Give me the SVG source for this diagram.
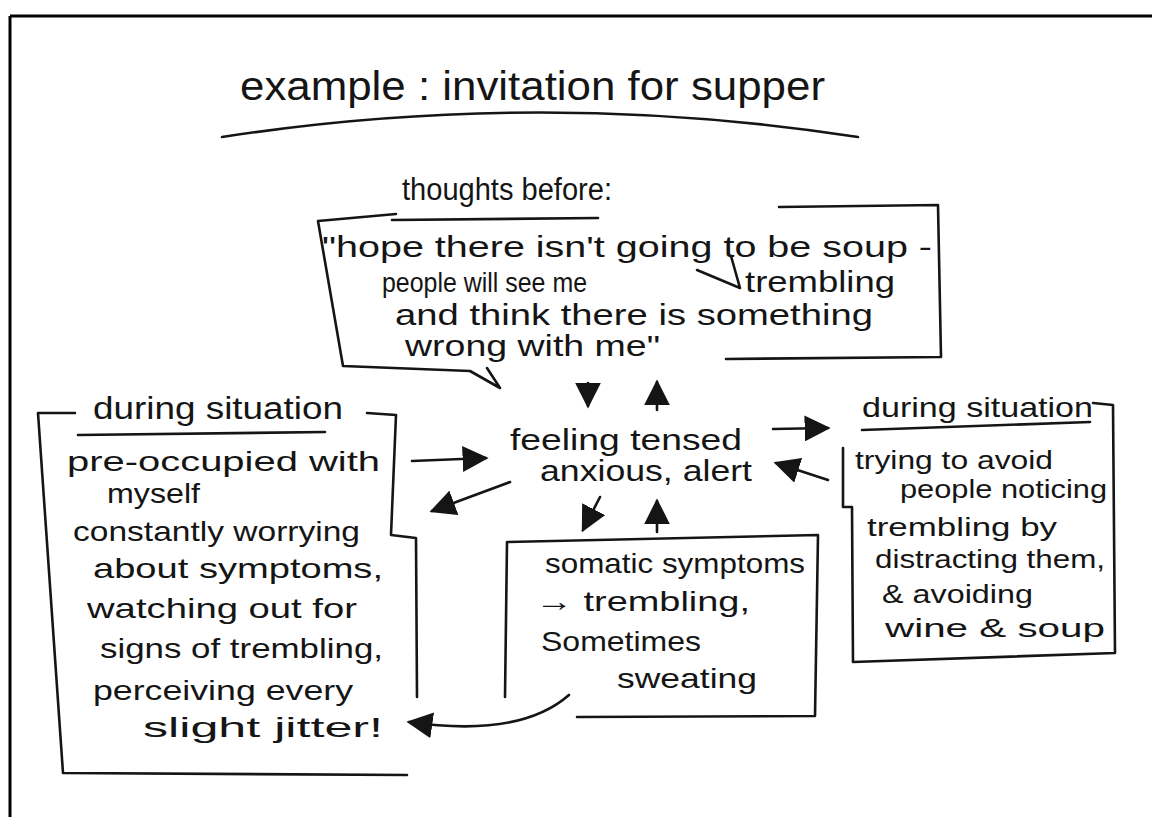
<svg xmlns="http://www.w3.org/2000/svg" width="1152" height="817" viewBox="0 0 1152 817">
<defs>
<style>
.ink{fill:none;stroke:#151515;stroke-width:2.6;stroke-linecap:round;stroke-linejoin:round}
.frame{fill:none;stroke:#000;stroke-width:3}
.t{font-family:"Liberation Sans","DejaVu Sans",sans-serif;fill:#151515}
.title{font-size:40px}
.head{font-size:31px}
.q{font-size:30px}
.b{font-size:28px}
.r{font-size:26px}
</style>
<marker id="ahb" viewBox="0 0 10 10" refX="9" refY="5" markerWidth="10" markerHeight="10" orient="auto-start-reverse">
<path d="M0,0 L10,5 L0,10 Z" fill="#151515"/>
</marker>
</defs>
<rect width="1152" height="817" fill="#fff"/>
<g id="frame">
<path class="frame" d="M10,16 L1152,16 M10,16 L10,817"/>
</g>
<g id="title">
<text class="t title" x="240" y="100" textLength="585" lengthAdjust="spacingAndGlyphs">example : invitation for supper</text>
<path class="ink" d="M222,137 Q540,88 858,137"/>
</g>
<g id="thoughts">
<text class="t head" x="402" y="200" textLength="210" lengthAdjust="spacingAndGlyphs">thoughts before:</text>
<path class="ink" d="M392,220 L598,218"/>
<path class="ink" d="M396,214 L318,221 L343,366 L470,371 L500,388 L487,368"/>
<path class="ink" d="M779,207 L938,205 L941,357 L726,359"/>
<text class="t q" x="322" y="257" textLength="610" lengthAdjust="spacingAndGlyphs">"hope there isn't going to be soup -</text>
<text class="t q" x="382" y="292" textLength="205" lengthAdjust="spacingAndGlyphs" style="font-size:27px">people will see me</text>
<path class="ink" d="M697,270 L740,288 L731,256"/>
<text class="t q" x="745" y="292" textLength="150" lengthAdjust="spacingAndGlyphs">trembling</text>
<text class="t q" x="395" y="325" textLength="478" lengthAdjust="spacingAndGlyphs">and think there is something</text>
<text class="t q" x="405" y="356" textLength="255" lengthAdjust="spacingAndGlyphs">wrong with me"</text>
</g>
<g id="center">
<text class="t q" x="510" y="450" textLength="232" lengthAdjust="spacingAndGlyphs">feeling tensed</text>
<text class="t q" x="540" y="481" textLength="212" lengthAdjust="spacingAndGlyphs">anxious, alert</text>
</g>
<g id="left-box">
<text class="t head" x="93" y="419" textLength="250" lengthAdjust="spacingAndGlyphs">during situation</text>
<path class="ink" d="M78,435 L325,432"/>
<path class="ink" d="M75,413 L38,413 L63,773 L407,775"/>
<path class="ink" d="M367,413 L396,415 L391,535 L416,538 L417,697"/>
<text class="t b" x="67" y="471" textLength="313" lengthAdjust="spacingAndGlyphs">pre-occupied with</text>
<text class="t b" x="107" y="503" textLength="93" lengthAdjust="spacingAndGlyphs">myself</text>
<text class="t b" x="73" y="541" textLength="287" lengthAdjust="spacingAndGlyphs">constantly worrying</text>
<text class="t b" x="93" y="578" textLength="290" lengthAdjust="spacingAndGlyphs">about symptoms,</text>
<text class="t b" x="87" y="618" textLength="270" lengthAdjust="spacingAndGlyphs">watching out for</text>
<text class="t b" x="100" y="658" textLength="283" lengthAdjust="spacingAndGlyphs">signs of trembling,</text>
<text class="t b" x="93" y="700" textLength="260" lengthAdjust="spacingAndGlyphs">perceiving every</text>
<text class="t b" x="143" y="737" textLength="240" lengthAdjust="spacingAndGlyphs">slight jitter!</text>
</g>
<g id="right-box">
<text class="t b" x="862" y="417" textLength="231" lengthAdjust="spacingAndGlyphs">during situation</text>
<path class="ink" d="M862,430 L1090,422"/>
<path class="ink" d="M1093,403 L1113,405 L1115,653 L853,662 L852,507 L843,507 L843,448"/>
<text class="t r" x="855" y="469" textLength="198" lengthAdjust="spacingAndGlyphs">trying to avoid</text>
<text class="t r" x="900" y="498" textLength="207" lengthAdjust="spacingAndGlyphs">people noticing</text>
<text class="t r" x="867" y="536" textLength="190" lengthAdjust="spacingAndGlyphs">trembling by</text>
<text class="t r" x="875" y="568" textLength="230" lengthAdjust="spacingAndGlyphs">distracting them,</text>
<text class="t r" x="882" y="603" textLength="151" lengthAdjust="spacingAndGlyphs">&amp; avoiding</text>
<text class="t r" x="885" y="637" textLength="220" lengthAdjust="spacingAndGlyphs">wine &amp; soup</text>
</g>
<g id="somatic">
<path class="ink" d="M505,697 L507,542 L818,535 L815,716 L577,717"/>
<text class="t b" x="545" y="573" textLength="260" lengthAdjust="spacingAndGlyphs">somatic symptoms</text>
<text class="t b" x="535" y="611" textLength="215" lengthAdjust="spacingAndGlyphs">→ trembling,</text>
<text class="t b" x="541" y="651" textLength="160" lengthAdjust="spacingAndGlyphs">Sometimes</text>
<text class="t b" x="617" y="688" textLength="140" lengthAdjust="spacingAndGlyphs">sweating</text>
</g>
<g id="connectors">
<path class="ink" d="M588,383 L588,406" marker-end="url(#ahb)"/>
<path class="ink" d="M657,410 L657,382" marker-end="url(#ahb)"/>
<path class="ink" d="M412,461 L486,458" marker-end="url(#ahb)"/>
<path class="ink" d="M510,482 L432,511" marker-end="url(#ahb)"/>
<path class="ink" d="M773,429 L828,428" marker-end="url(#ahb)"/>
<path class="ink" d="M828,480 L776,463" marker-end="url(#ahb)"/>
<path class="ink" d="M600,497 L583,530" marker-end="url(#ahb)"/>
<path class="ink" d="M657,532 L657,501" marker-end="url(#ahb)"/>
<path class="ink" d="M569,695 Q520,738 409,722" marker-end="url(#ahb)"/>
</g>
</svg>
